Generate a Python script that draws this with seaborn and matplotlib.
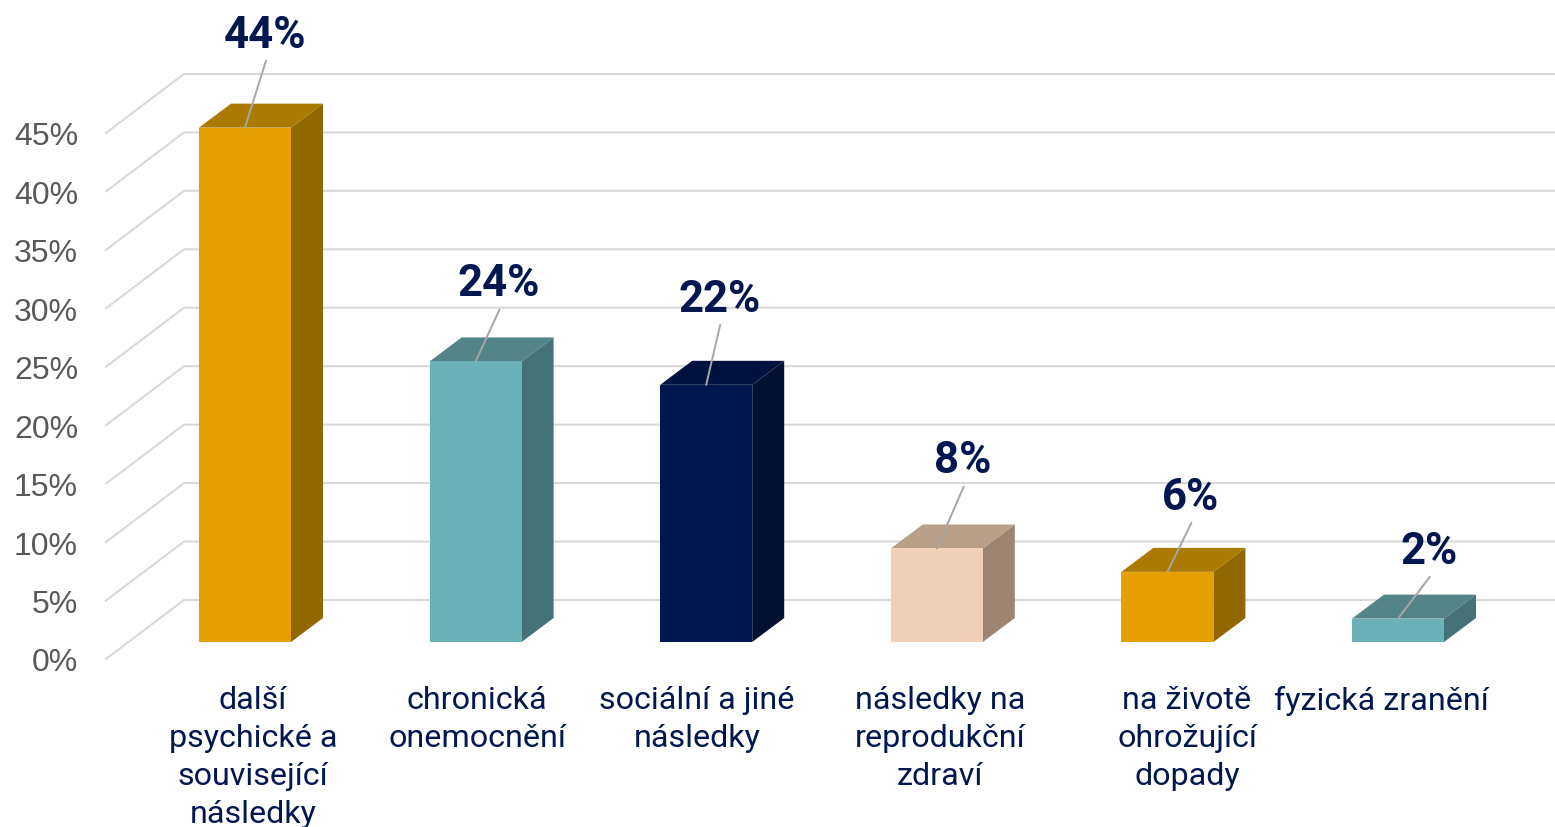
import pandas as pd
import matplotlib
matplotlib.use('Agg')
import matplotlib.pyplot as plt
import seaborn as sns

# chart data
categories = ['další\npsychické a\nsouvisející\nnásledky', 'chronická\nonemocnění', 'sociální a jiné\nnásledky',
              'následky na\nreprodukční\nzdraví', 'na životě\nohrožující\ndopady', 'fyzická zranění']
values = [44, 24, 22, 8, 6, 2]
y_ticks = [0, 5, 10, 15, 20, 25, 30, 35, 40, 45]

# front, side and top face colours
front_colors = ['#E3A000', '#6AB1B8', '#00174F', '#F0D0B6', '#E3A000', '#6AB1B8']
side_colors = ['#916700', '#447276', '#021034', '#9C8571', '#916700', '#447276']
top_colors = ['#AB7A00', '#528488', '#001240', '#B89F87', '#AB7A00', '#528488']

# pixels per unit, the axes fill the whole figure
PX_X = 230.6
PX_Y = 11.69
BASE_X = 245
BASE_Y = 643
NAVY = '#00174F'
GRID = '#D9D9D9'

# label leader ends, relative to the bar top (pixels)
leader_dx = [21, 24, 14, 27, 24, 32]
leader_dy = [67, 52, 60, 62, 49, 42]
# x position of the category labels, in pixels
label_px = [253, 477, 697, 940, 1187, 1381]

df = pd.DataFrame({'cat': categories, 'val': values})

fig = plt.figure(figsize=(15.55, 8.28), dpi=100)
ax = fig.add_axes([0, 0, 1, 1])

sns.barplot(x='cat', y='val', data=df, hue='cat', palette=front_colors, legend=False,
            width=92 / PX_X, ax=ax, zorder=4, linewidth=0, saturation=1)

ax.set_xlim(-BASE_X / PX_X, (1555 - BASE_X) / PX_X)
ax.set_ylim((BASE_Y - 828) / PX_Y, BASE_Y / PX_Y)
ax.axis('off')

# depth of the bars and of the floor
bar_dx, bar_dy = 32 / PX_X, 24 / PX_Y
wall_x = (184 - BASE_X) / PX_X
front_x = (106 - BASE_X) / PX_X
wall_y0 = 42 / PX_Y
front_y0 = -17 / PX_Y

for t in y_ticks:
    ax.plot([front_x, wall_x, ax.get_xlim()[1]], [front_y0 + t, wall_y0 + t, wall_y0 + t],
            color=GRID, lw=1.5, zorder=1, solid_joinstyle='miter')
    ax.text((78 - BASE_X) / PX_X, front_y0 + t, f'{t}%', ha='right', va='center_baseline',
            fontsize=23, color='#595959', family='Liberation Sans')

for i, v in enumerate(values):
    left = i - 46 / PX_X
    right = i + 46 / PX_X
    ax.fill([right, right + bar_dx, right + bar_dx, right], [0, bar_dy, v + bar_dy, v],
            color=side_colors[i], lw=0, zorder=3)
    ax.fill([left, left + bar_dx, right + bar_dx, right], [v, v + bar_dy, v + bar_dy, v],
            color=top_colors[i], lw=0, zorder=3)

    # value label with its leader line
    ax.annotate('', xy=(i, v), xytext=(leader_dx[i], leader_dy[i]), textcoords='offset pixels',
                arrowprops=dict(arrowstyle='-', color='#A6A6A6', lw=1.4, shrinkA=0, shrinkB=0), zorder=6)
    ax.annotate(f'{v}%', xy=(i, v), xytext=(leader_dx[i] - 1, leader_dy[i] + 26), textcoords='offset pixels',
                ha='center', va='center', fontsize=31.5, fontweight='bold', color=NAVY,
                family='Roboto', zorder=7)

    ax.text((label_px[i] - BASE_X) / PX_X, -43 / PX_Y, categories[i], ha='center', va='top',
            fontsize=23.2, color=NAVY, family='Roboto', linespacing=1.39)

fig.savefig('out.png', dpi=100)
